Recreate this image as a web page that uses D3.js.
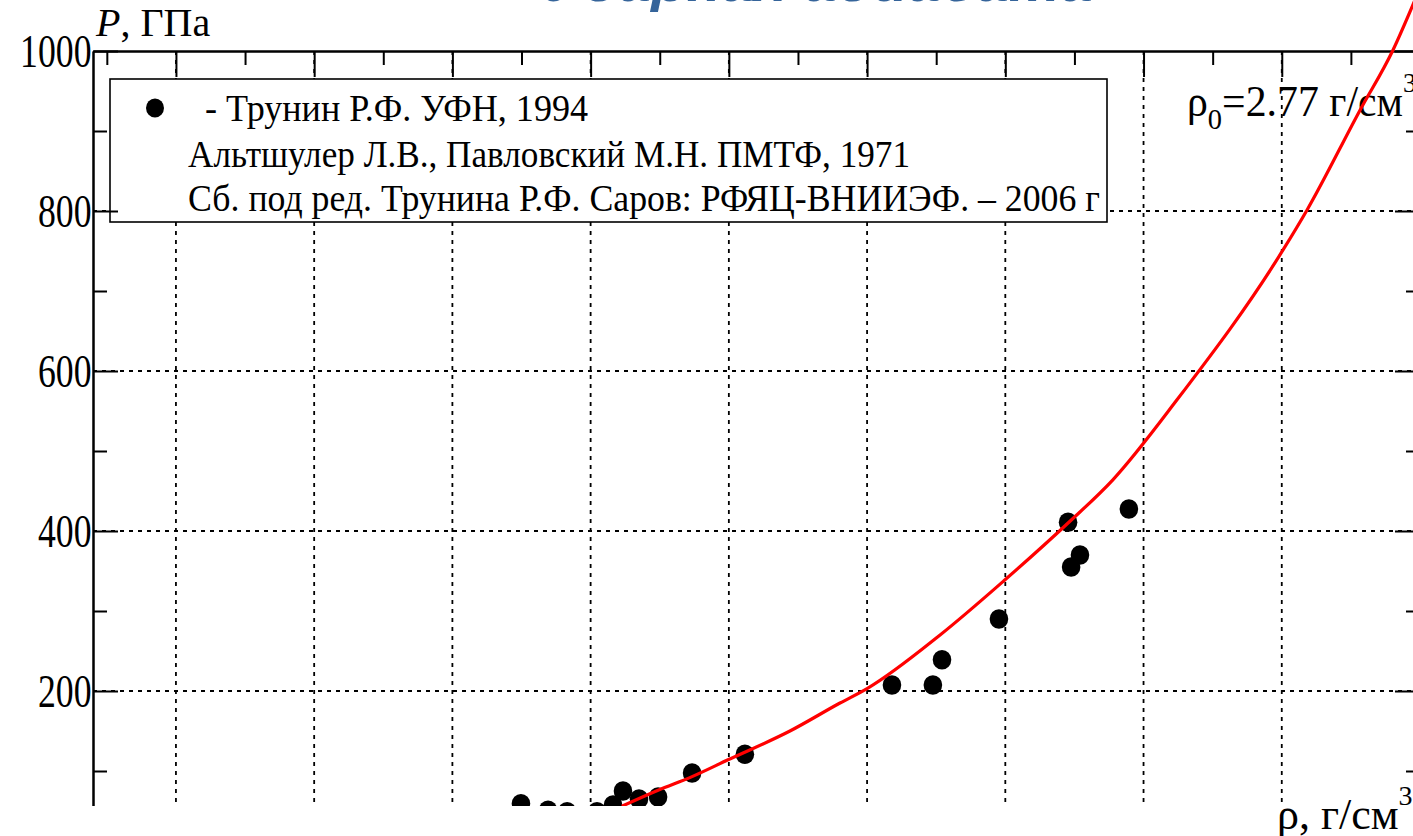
<!DOCTYPE html>
<html>
<head>
<meta charset="utf-8">
<script src="https://cdn.jsdelivr.net/npm/d3@7"></script>
<style>
  body { margin: 0; background: #fff; }
  svg { display: block; }
</style>
</head>
<body>
<svg id="chart" width="1413" height="836"></svg>
<script>
// Ударная адиабата алюминия: P(ρ)
const yMajorTicks = [0, 200, 400, 600, 800, 1000];
const yMinorTicks = [100, 300, 500, 700, 900];
const yGridValues = [200, 400, 600, 800];
const xMajorTicks = [2.5, 3.0, 3.5, 4.0, 4.5, 5.0, 5.5, 6.0, 6.5, 7.0];
const xMinorTicks = [2.25, 2.75, 3.25, 3.75, 4.25, 4.75, 5.25, 5.75, 6.25, 6.75];
const xGridValues = [2.5, 3.0, 3.5, 4.0, 4.5, 5.0, 5.5, 6.0, 6.5];

// Экспериментальные точки (Трунин Р.Ф. и др.)
const pointRho = [3.748, 3.846, 3.915, 4.023, 4.081, 4.117, 4.175, 4.244, 4.367, 4.558,
                  5.090, 5.238, 5.271, 5.477, 5.727, 5.770, 5.738, 5.947];
const pointP   = [59, 51, 49, 49, 57.5, 75, 65, 67.5, 97.5, 121,
                  207.5, 207.5, 239, 290, 411, 370, 355, 427.5];

// Расчётная кривая
const curveRho = [4.113, 4.244, 4.367, 4.497, 4.721, 4.902, 5.000, 5.264, 5.499, 5.727,
                  5.889, 6.121, 6.504, 6.591, 6.783, 6.902, 6.982];
const curveP   = [56, 76, 93, 114, 150, 185, 203, 270, 339, 410,
                  464, 564, 751, 801, 926, 1001, 1064];

const legendLines = [
  "- Трунин Р.Ф. УФН, 1994",
  "Альтшулер Л.В., Павловский М.Н. ПМТФ, 1971",
  "Сб. под ред. Трунина Р.Ф. Саров: РФЯЦ-ВНИИЭФ. – 2006 г"
];

const SERIF = "'Liberation Serif'";
const SANS = "'Liberation Sans'";

const svg = d3.select("#chart");
const x = d3.scaleLinear().domain([2.2, 7.0]).range([93, 1420]);
const y = d3.scaleLinear().domain([0, 1000]).range([851, 51]);

// сетка
const grid = svg.append("g")
  .attr("stroke", "#000").attr("stroke-width", 1.8).attr("stroke-dasharray", "4,5");
grid.selectAll("line.v").data(xGridValues).join("line").attr("class", "v")
  .attr("x1", d => x(d)).attr("x2", d => x(d))
  .attr("y1", y(1000)).attr("y2", y(0));
grid.selectAll("line.h").data(yGridValues).join("line").attr("class", "h")
  .attr("x1", x(2.2)).attr("x2", x(7.0))
  .attr("y1", d => y(d)).attr("y2", d => y(d));

// рамка легенды
svg.append("rect")
  .attr("x", 110).attr("y", 79).attr("width", 997).attr("height", 143)
  .attr("fill", "#fff").attr("stroke", "#000").attr("stroke-width", 1.6);

// оси
function styleAxis(g) {
  g.selectAll("path.domain").attr("stroke", "#000").attr("stroke-width", 2);
  g.selectAll(".tick line").attr("stroke", "#000").attr("stroke-width", 2);
}
const axes = svg.append("g");
// левая ось: основные деления с подписями
const leftMajor = axes.append("g").attr("transform", `translate(${x(2.2)},0)`)
  .call(d3.axisLeft(y).tickValues(yMajorTicks.filter(d => d > 0))
    .tickSize(-25).tickSizeOuter(0).tickPadding(2).tickFormat(d3.format("d")));
leftMajor.call(styleAxis);
leftMajor.selectAll(".tick text")
  .style("font-family", SERIF).style("font-size", "47px")
  .attr("fill", "#000").attr("dy", "0.34em")
  .attr("transform", "scale(0.76,1)");
axes.append("g").attr("transform", `translate(${x(2.2)},0)`)
  .call(d3.axisLeft(y).tickValues(yMinorTicks).tickSize(-14).tickSizeOuter(0).tickFormat(""))
  .call(styleAxis);
// правая ось
axes.append("g").attr("transform", `translate(${x(7.0)},0)`)
  .call(d3.axisRight(y).tickValues(yMajorTicks).tickSize(-25).tickSizeOuter(0).tickFormat(""))
  .call(styleAxis);
axes.append("g").attr("transform", `translate(${x(7.0)},0)`)
  .call(d3.axisRight(y).tickValues(yMinorTicks).tickSize(-14).tickSizeOuter(0).tickFormat(""))
  .call(styleAxis);
// верхняя ось
axes.append("g").attr("transform", `translate(0,${y(1000)})`)
  .call(d3.axisTop(x).tickValues(xMajorTicks).tickSize(-26).tickSizeOuter(0).tickFormat(""))
  .call(styleAxis);
axes.append("g").attr("transform", `translate(0,${y(1000)})`)
  .call(d3.axisTop(x).tickValues(xMinorTicks).tickSize(-14).tickSizeOuter(0).tickFormat(""))
  .call(styleAxis);
// нижняя ось
axes.append("g").attr("transform", `translate(0,${y(0)})`)
  .call(d3.axisBottom(x).tickValues(xMajorTicks).tickSize(-26).tickSizeOuter(0).tickFormat(""))
  .call(styleAxis);

// подпись ρ0
const rho0 = svg.append("text").attr("transform", "translate(1187,116) scale(0.95,1)")
  .style("font-family", SERIF).style("font-size", "44px");
rho0.append("tspan").text("ρ");
rho0.append("tspan").style("font-size", "30px").attr("dy", 13).text("0");
rho0.append("tspan").attr("dy", -13).text("=2.77 г/см");
rho0.append("tspan").style("font-size", "28px").attr("dy", -24).text("3");

// экспериментальные точки
const pts = d3.zip(pointRho, pointP);
svg.append("g").selectAll("ellipse").data(pts).join("ellipse")
  .attr("cx", d => x(d[0])).attr("cy", d => y(d[1]))
  .attr("rx", 9.3).attr("ry", 9.8).attr("fill", "#000");

// расчётная кривая
const line = d3.line().x(d => x(d[0])).y(d => y(d[1])).curve(d3.curveMonotoneX);
svg.append("path").datum(d3.zip(curveRho, curveP))
  .attr("d", line).attr("fill", "none").attr("stroke", "#ff0000").attr("stroke-width", 3.2);

// легенда
svg.append("ellipse").attr("cx", 155).attr("cy", 108).attr("rx", 9).attr("ry", 9.5).attr("fill", "#000");
const legendX = [205, 188, 188];
const legendY = [121, 167, 211];
const legendW = [383, 722, 912];
svg.append("g").selectAll("text").data(legendLines).join("text")
  .attr("x", (d, i) => legendX[i]).attr("y", (d, i) => legendY[i])
  .style("font-family", SERIF).style("font-size", "37px")
  .attr("textLength", (d, i) => legendW[i]).attr("lengthAdjust", "spacingAndGlyphs")
  .text(d => d);

// подпись оси P
const yLabel = svg.append("text").attr("x", 96).attr("y", 36)
  .style("font-family", SERIF).style("font-size", "40px");
yLabel.append("tspan").style("font-style", "italic").text("P");
yLabel.append("tspan").text(", ГПа");

// нижняя часть рисунка закрыта
svg.append("rect").attr("x", 0).attr("y", 806).attr("width", 1292).attr("height", 30).attr("fill", "#fff");

// подпись оси ρ
const xLabel = svg.append("text").attr("x", 1277).attr("y", 829)
  .style("font-family", SERIF).style("font-size", "44px");
xLabel.append("tspan").text("ρ, г/см");
xLabel.append("tspan").style("font-size", "28px").attr("dy", -24).text("3");

// заголовок
svg.append("text").attr("x", 545).attr("y", 1)
  .style("font-family", SANS).style("font-weight", "bold").style("font-style", "italic")
  .style("font-size", "54px").attr("fill", "#35649a")
  .attr("textLength", 548).attr("lengthAdjust", "spacingAndGlyphs")
  .text("Ударная адиабата");
</script>
</body>
</html>
